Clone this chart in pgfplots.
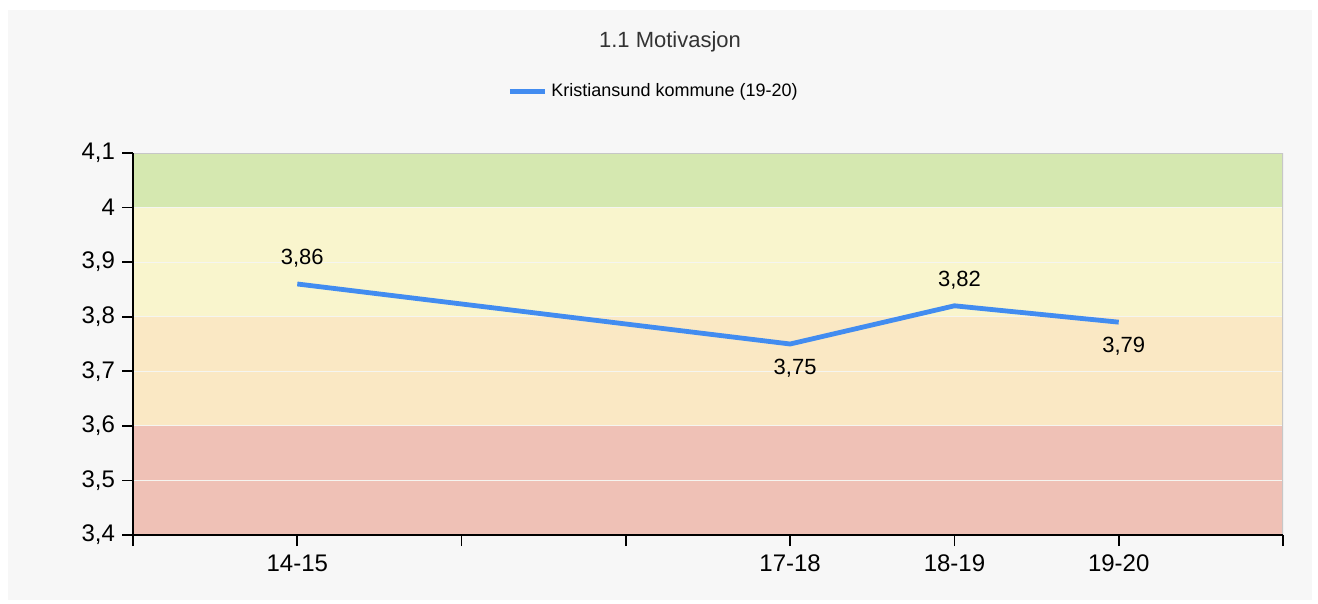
\documentclass[border=0pt]{standalone}
\usepackage{pgfplots}
\pgfplotsset{compat=1.18}
\usepackage{fontspec}
\setmainfont{Liberation Sans}

\definecolor{bgc}{HTML}{F7F7F7}
\definecolor{bandgreen}{RGB}{213,232,176}
\definecolor{bandyellow}{RGB}{249,245,205}
\definecolor{bandorange}{RGB}{250,232,196}
\definecolor{bandred}{RGB}{239,193,182}
\definecolor{linec}{RGB}{66,140,240}
\definecolor{gridc}{RGB}{245,245,240}

\pgfplotsset{
  vlabel/.style 2 args={draw=none, mark=none, forget plot,
    nodes near coords={\pgfmathprintnumber[use comma,fixed,precision=2,fixed zerofill]{\pgfplotspointmeta}},
    every node near coord/.append style={anchor=#1, text=black,
      font=\fontsize{11bp}{13bp}\selectfont, xshift=2.5bp, yshift=#2, inner sep=4.5bp,
      /pgf/number format/assume math mode=true}},
}

\begin{document}
\begin{tikzpicture}
% 1 px of the reference = 0.5bp
\path (0,0) rectangle (659bp,-302bp);
\fill[bgc] (4bp,-5bp) rectangle (656bp,-300bp);
\node[font=\fontsize{11bp}{13bp}\selectfont, text=black!80] at (335bp,-21bp) {1.1 Motivasjon};
\begin{axis}[
  at={(66.5bp,-267.5bp)}, anchor=south west,
  width=575bp, height=191bp, scale only axis,
  axis on top,
  xmin=0, xmax=7, ymin=3.4, ymax=4.1,
  axis x line*=bottom, axis y line*=left,
  axis line style={-, black, line width=0.8pt},
  xtick={0,...,7},
  xticklabels={,14-15,,,17-18,18-19,19-20,},
  ytick={3.4,3.5,3.6,3.7,3.8,3.9,4.0,4.1},
  yticklabel style={/pgf/number format/.cd,use comma,fixed,precision=1},
  tick align=outside, major tick length=5.5bp,
  tick style={black, line width=0.8pt},
  ticklabel style={font=\fontsize{12bp}{14bp}\selectfont},
  /pgf/number format/assume math mode=true,
  xticklabel style={yshift=-1bp},
  legend style={at={(0.4535,1.16)}, anchor=center, draw=none, fill=none,
    font=\fontsize{9bp}{11bp}\selectfont, inner sep=0pt},
  legend image code/.code={\draw[#1, line width=2.5bp] (0,0) -- (17.5bp,0);},
]
\addplot[draw=none, fill=bandred, forget plot]
  coordinates {(0,3.4) (7,3.4) (7,3.6) (0,3.6)};
\addplot[draw=none, fill=bandorange, forget plot]
  coordinates {(0,3.6) (7,3.6) (7,3.8) (0,3.8)};
\addplot[draw=none, fill=bandyellow, forget plot]
  coordinates {(0,3.8) (7,3.8) (7,4.0) (0,4.0)};
\addplot[draw=none, fill=bandgreen, forget plot]
  coordinates {(0,4.0) (7,4.0) (7,4.1) (0,4.1)};
\foreach \g in {3.5,3.6,3.7,3.8,3.9,4.0} {
  \edef\tmp{\noexpand\draw[gridc, line width=0.6pt] (axis cs:0,\g) -- (axis cs:7,\g);}
  \tmp
}
\draw[black!22, line width=0.8pt] (rel axis cs:0,1) -- (rel axis cs:1,1) -- (rel axis cs:1,0);
\addplot[linec, line width=2.4bp, mark=none]
  coordinates {(1,3.86) (4,3.75) (5,3.82) (6,3.79)};
\addlegendentry{Kristiansund kommune (19-20)}
\addplot[vlabel={south}{3.5bp}] coordinates {(1,3.86) (5,3.82)};
\addplot[vlabel={north}{-3bp}] coordinates {(4,3.75) (6,3.79)};
\end{axis}
\end{tikzpicture}
\end{document}
